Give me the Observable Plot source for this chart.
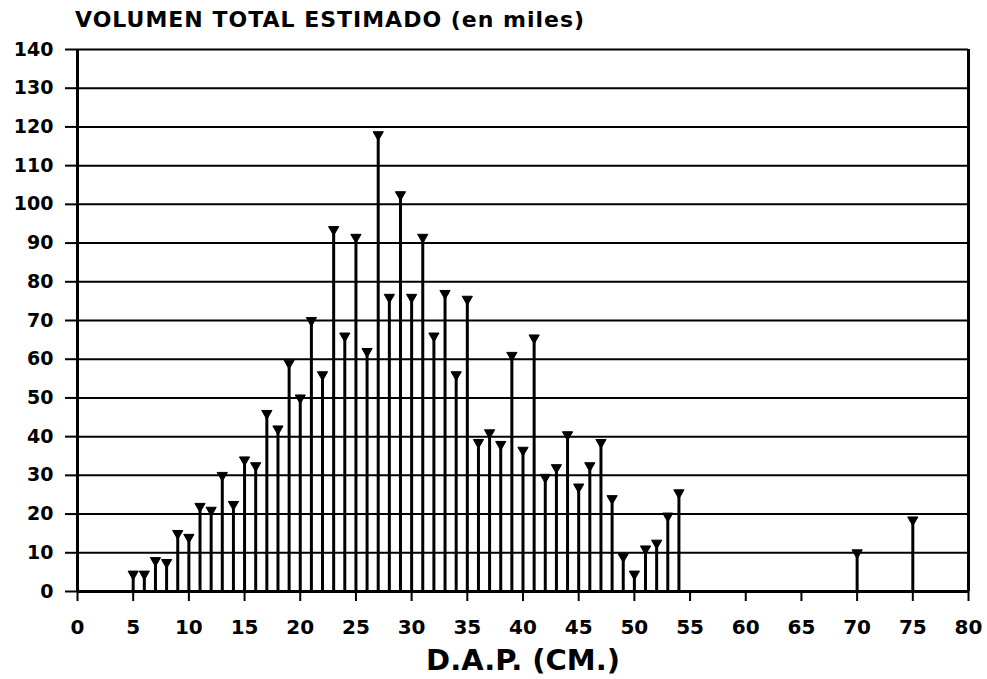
<!DOCTYPE html>
<html>
<head>
<meta charset="utf-8">
<script src="https://cdn.jsdelivr.net/npm/d3@7"></script>
<script src="https://cdn.jsdelivr.net/npm/@observablehq/plot@0.6"></script>
<style>
  html, body { margin: 0; padding: 0; background: #fff; }
  #wrap { width: 987px; height: 679px; overflow: hidden; }
  #title { position: relative; height: 40px; width: 987px; }
  #title span {
    position: absolute; left: 75px; top: 9px;
    font-family: "DejaVu Sans", sans-serif; font-weight: bold;
    font-size: 22px; letter-spacing: 1px; line-height: 1; color: #000;
    white-space: nowrap;
  }
  svg { display: block; }
</style>
</head>
<body>
<div id="wrap">
  <div id="title"><span>VOLUMEN TOTAL ESTIMADO (en miles)</span></div>
  <div id="chart"></div>
</div>
<script>
// D.A.P. classes (cm)
const dap = [5, 6, 7, 8, 9, 10, 11, 12, 13, 14, 15, 16, 17, 18, 19, 20, 21, 22, 23, 24,
             25, 26, 27, 28, 29, 30, 31, 32, 33, 34, 35, 36, 37, 38, 39, 40, 41, 42, 43, 44,
             45, 46, 47, 48, 49, 50, 51, 52, 53, 54, 70, 75];
// Estimated total volume (thousands)
const volumen = [4.5, 4.5, 8, 7.5, 15, 14, 22, 21, 30, 22.5, 34, 32.5, 46, 42, 59, 50, 70, 56, 93.5, 66,
                 91.5, 62, 118, 76, 102.5, 76, 91.5, 66, 77, 56, 75.5, 38.5, 41, 38, 61, 36.5, 65.5, 29.5, 32, 40.5,
                 27, 32.5, 38.5, 24, 9, 4.5, 11, 12.5, 19.5, 25.5, 10, 18.5];
const yTicks = [0, 10, 20, 30, 40, 50, 60, 70, 80, 90, 100, 110, 120, 130, 140];
const xTicks = [0, 5, 10, 15, 20, 25, 30, 35, 40, 45, 50, 55, 60, 65, 70, 75, 80];
const xTitle = "D.A.P. (CM.)";

const data = dap.map((d, i) => ({dap: d, vol: volumen[i]}));

const font = "DejaVu Sans, sans-serif";

const chart = Plot.plot({
  width: 987,
  height: 639,
  marginTop: 9,
  marginBottom: 88,
  marginLeft: 77,
  marginRight: 19,
  style: {background: "#fff", color: "#000", fontFamily: font, overflow: "visible"},
  x: {domain: [0, 80]},
  y: {domain: [0, 140]},
  marks: [
    Plot.ruleY(yTicks, {stroke: "#000", strokeWidth: 2}),
    Plot.ruleY([0], {stroke: "#000", strokeWidth: 3}),
    Plot.ruleX([0, 80], {stroke: "#000", strokeWidth: 3}),
    Plot.axisY({
      ticks: yTicks, tickSize: 12, tickPadding: 12, tickFormat: d => String(d),
      fontSize: 19, fontWeight: "bold", fontFamily: font, strokeWidth: 2, label: null
    }),
    Plot.axisX({
      ticks: xTicks, tickSize: 10, tickPadding: 18, tickFormat: d => String(d),
      fontSize: 20, fontWeight: "bold", fontFamily: font, strokeWidth: 2, label: null
    }),
    Plot.ruleX(data, {x: "dap", y1: 0, y2: "vol", stroke: "#000", strokeWidth: 3}),
    Plot.dot(data, {x: "dap", y: "vol", symbol: "triangle", rotate: 180, r: 3.8, fill: "#000", stroke: "#000", strokeWidth: 1}),
    Plot.text([xTitle], {
      text: d => d, frameAnchor: "bottom", dy: 69, lineAnchor: "middle",
      fontSize: 29, fontWeight: "bold", fontFamily: font, fill: "#000"
    })
  ]
});
document.getElementById("chart").appendChild(chart);
</script>
</body>
</html>
